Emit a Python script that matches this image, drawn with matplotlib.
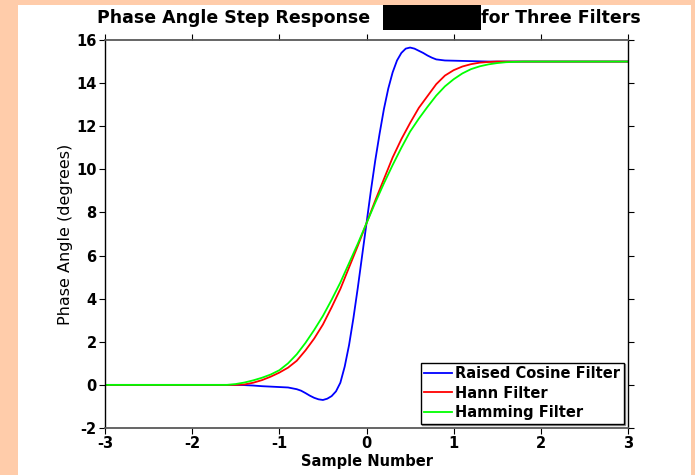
import matplotlib
matplotlib.use("Agg")
import matplotlib.pyplot as plt
from matplotlib.patches import Rectangle

# values
x_rc = [-3.0, -2.0, -1.5, -1.4, -1.3, -1.2, -1.1, -1.0, -0.9, -0.8,
        -0.75, -0.7, -0.65, -0.6, -0.55, -0.5, -0.45, -0.4, -0.35, -0.3,
        -0.25, -0.2, -0.15, -0.1, -0.05, 0.0,
        0.05, 0.1, 0.15, 0.2, 0.25, 0.3, 0.35, 0.4, 0.45, 0.5, 0.55, 0.6,
        0.65, 0.7, 0.75, 0.8,
        0.9, 1.0, 1.1, 1.2, 1.3, 1.4, 1.5, 2.0, 3.0]
y_rc = [0, 0, 0, -0.01, -0.03, -0.06, -0.08, -0.1, -0.12, -0.2,
        -0.27, -0.38, -0.5, -0.6, -0.67, -0.7, -0.64, -0.52, -0.3, 0.1,
        0.85, 1.85, 3.1, 4.5, 6.0, 7.5,
        9.0, 10.4, 11.65, 12.8, 13.75, 14.5, 15.05, 15.4, 15.6, 15.65, 15.6, 15.5,
        15.4, 15.28, 15.18, 15.1,
        15.05, 15.04, 15.03, 15.02, 15.01, 15.0, 15.0, 15.0, 15.0]

x_hann = [-3.0, -2.0, -1.5, -1.4, -1.3, -1.2, -1.1, -1.0, -0.9, -0.8, -0.7,
          -0.6, -0.5, -0.4, -0.3, -0.2, -0.1, 0.0, 0.1, 0.2, 0.3, 0.4, 0.5,
          0.6, 0.7, 0.8, 0.9, 1.0, 1.1, 1.2, 1.3, 1.4, 1.5, 2.0, 3.0]
y_hann = [0, 0, 0, 0.02, 0.1, 0.22, 0.38, 0.57, 0.8, 1.12, 1.6,
          2.15, 2.8, 3.6, 4.45, 5.45, 6.45, 7.5, 8.55, 9.55, 10.55, 11.4, 12.15,
          12.85, 13.4, 13.95, 14.35, 14.6, 14.77, 14.88, 14.95, 14.98, 15.0, 15.0, 15.0]

x_hamm = [-3.0, -2.0, -1.6, -1.5, -1.4, -1.3, -1.2, -1.1, -1.0, -0.9, -0.8, -0.7,
          -0.6, -0.5, -0.4, -0.3, -0.2, -0.1, 0.0, 0.1, 0.2, 0.3, 0.4, 0.5,
          0.6, 0.7, 0.8, 0.9, 1.0, 1.1, 1.2, 1.3, 1.4, 1.5, 1.6, 1.8, 2.0, 3.0]
y_hamm = [0, 0, 0, 0.04, 0.11, 0.21, 0.33, 0.48, 0.68, 1.0, 1.42, 1.95,
          2.55, 3.2, 3.95, 4.75, 5.65, 6.55, 7.5, 8.45, 9.35, 10.2, 11.0, 11.75,
          12.35, 12.9, 13.42, 13.85, 14.18, 14.45, 14.65, 14.78, 14.87, 14.93, 14.97, 15.0, 15.0, 15.0]

labels = ["Raised Cosine Filter", "Hann Filter", "Hamming Filter"]
x_ticks = [-3, -2, -1, 0, 1, 2, 3]
y_ticks = [-2, 0, 2, 4, 6, 8, 10, 12, 14, 16]

plt.rcParams['font.family'] = ['DejaVu Sans']
plt.rcParams['axes.unicode_minus'] = False

fig = plt.figure(figsize=(6.95, 4.75), dpi=100)
fig.patch.set_facecolor("#FFCCAA")
# white panel inside the peach border
fig.add_artist(Rectangle((18 / 695, 0), (691 - 18) / 695, 1 - 5 / 475,
                         transform=fig.transFigure, facecolor="white",
                         edgecolor="none", zorder=-5))

ax = fig.add_axes([105 / 695, 1 - 428 / 475, (628 - 105) / 695, (428 - 40) / 475])
ax.set_facecolor("white")

ax.plot(x_rc, y_rc, color="#0000FF", lw=1.3, label=labels[0])
ax.plot(x_hann, y_hann, color="#FF0000", lw=1.3, label=labels[1])
ax.plot(x_hamm, y_hamm, color="#00FF00", lw=1.3, label=labels[2])

ax.set_xlim(-3, 3)
ax.set_ylim(-2, 16)
ax.set_xticks(x_ticks)
ax.set_yticks(y_ticks)
ax.tick_params(top=True, right=True, direction="out", length=4, width=0.8,
               labelsize=10.5, pad=2)
for lab in ax.get_xticklabels() + ax.get_yticklabels():
    lab.set_fontweight("bold")

for side in ["left", "right"]:
    ax.spines[side].set_color("black")
    ax.spines[side].set_linewidth(1.0)
for side in ["top", "bottom"]:
    ax.spines[side].set_color("0.35")
    ax.spines[side].set_linewidth(1.3)

ax.set_xlabel("Sample Number", fontsize=10.5, fontweight="bold")
ax.xaxis.set_label_coords(0.5, -0.066)
ax.set_ylabel("Phase Angle (degrees)", fontsize=11.5)
ax.yaxis.set_label_coords(-0.061, 0.5)

leg = ax.legend(loc="lower right", prop={"weight": "bold", "size": 10.5},
                frameon=True, fancybox=False, edgecolor="black",
                borderaxespad=0.3, borderpad=0.25, labelspacing=0.3,
                handlelength=1.9, handletextpad=0.2,
                shadow={"color": "0.55", "alpha": 1, "ox": 1.2, "oy": -1.2})
leg.get_frame().set_linewidth(1.0)

# title with a redacted block in the middle
fig.text(97 / 695, 1 - 18 / 475, "Phase Angle Step Response", fontsize=12.5,
         fontweight="bold", ha="left", va="center")
fig.add_artist(Rectangle((383 / 695, 1 - 30 / 475), (481 - 383) / 695, 25 / 475,
                         transform=fig.transFigure, facecolor="black",
                         edgecolor="none"))
fig.text(481 / 695, 1 - 18 / 475, "for Three Filters", fontsize=12.5,
         fontweight="bold", ha="left", va="center")

fig.savefig("out.png", dpi=100, facecolor=fig.get_facecolor())
